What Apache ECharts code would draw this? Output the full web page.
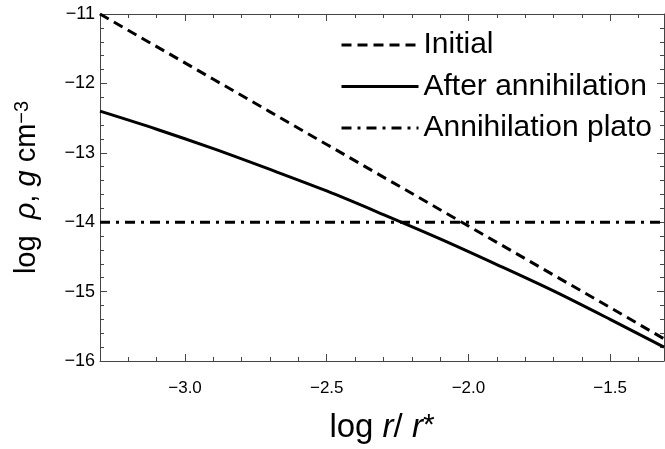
<!DOCTYPE html>
<html>
<head>
<meta charset="utf-8">
<script src="https://cdn.jsdelivr.net/npm/echarts@6/dist/echarts.min.js"></script>
<style>
html,body{margin:0;padding:0;background:#fff;}
#chart{width:665px;height:449px;}
</style>
</head>
<body>
<div id="chart"></div>
<script>
// Data
const xValues = [-3.3, -3.1, -2.9, -2.7, -2.5, -2.3, -2.1, -1.9, -1.7, -1.5, -1.31];
const initialValues = [-11.00, -11.47, -11.94, -12.41, -12.88, -13.35, -13.82, -14.29, -14.76, -15.23, -15.68];
const afterValues = [-12.40, -12.66, -12.94, -13.24, -13.55, -13.89, -14.24, -14.61, -14.99, -15.40, -15.80];
const platoValues = [-14, -14, -14, -14, -14, -14, -14, -14, -14, -14, -14];
const seriesNames = ['Initial', 'After annihilation', 'Annihilation plato'];
const xMajorTicks = [-3.0, -2.5, -2.0, -1.5];
const xMinorTicks = [-3.3,-3.2,-3.1,-3.0,-2.9,-2.8,-2.7,-2.6,-2.5,-2.4,-2.3,-2.2,-2.1,-2.0,-1.9,-1.8,-1.7,-1.6,-1.5,-1.4];
const xMin = -3.3, xMax = -1.31, yMin = -16, yMax = -11;

const FONT = '"Liberation Sans", Arial, Helvetica, sans-serif';
const AX = '#444';
const minus = s => String(s).replace('-', '\u2212');
const pairs = vals => xValues.map((x, i) => [x, vals[i]]);

const chart = echarts.init(document.getElementById('chart'), null, {renderer: 'canvas'});

function xAxisCfg(pos, major) {
  return {
    type: 'value', position: pos, min: xMin, max: xMax, gridIndex: 0,
    axisLine: {show: major, onZero: false, lineStyle: {color: AX, width: 1}},
    axisTick: {show: true, inside: true, length: major ? 7 : 4,
      customValues: major ? xMajorTicks : xMinorTicks, lineStyle: {color: AX, width: 1}},
    axisLabel: {show: major && pos === 'bottom', customValues: xMajorTicks, margin: 19,
      fontSize: 17, color: '#000', fontFamily: FONT,
      formatter: v => minus(Number(v).toFixed(1))},
    splitLine: {show: false},
    name: (major && pos === 'bottom') ? '{n|log }{i|r}{n|/ }{i|r}{s|*}' : '',
    nameLocation: 'middle', nameGap: 50,
    nameTextStyle: {
      rich: {
        n: {fontSize: 33, fontFamily: FONT, color: '#000'},
        i: {fontSize: 33, fontFamily: FONT, fontStyle: 'italic', color: '#000'},
        s: {fontSize: 30, fontFamily: FONT, color: '#000', verticalAlign: 'top'}
      }
    }
  };
}
function yAxisCfg(pos) {
  const left = pos === 'left';
  return {
    type: 'value', position: pos, min: yMin, max: yMax, interval: 1, gridIndex: 0,
    axisLine: {show: true, onZero: false, lineStyle: {color: AX, width: 1}},
    axisTick: {show: true, inside: true, length: 7, lineStyle: {color: AX, width: 1}},
    minorTick: {show: true, splitNumber: 5, length: 4, lineStyle: {color: AX, width: 1}},
    axisLabel: {show: left, margin: 5, fontSize: 18, color: '#000', fontFamily: FONT,
      formatter: v => minus(v)},
    splitLine: {show: false}, minorSplitLine: {show: false},
    name: left ? '{n|log  }{i|ρ}{n|, }{i|g}{n| cm}{s|\u22123}' : '',
    nameLocation: 'middle', nameGap: 54, nameRotate: 90,
    nameTextStyle: {
      rich: {
        n: {fontSize: 29, lineHeight: 29, fontFamily: FONT, color: '#000', verticalAlign: 'bottom'},
        i: {fontSize: 29, lineHeight: 29, fontFamily: FONT, fontStyle: 'italic', color: '#000', verticalAlign: 'bottom'},
        s: {fontSize: 20, lineHeight: 20, fontFamily: FONT, color: '#000', verticalAlign: 'top', padding: [0, 0, 21, 0]}
      }
    }
  };
}

const option = {
  backgroundColor: '#fff',
  animation: false,
  grid: {left: 100, right: 1, top: 14, bottom: 84, containLabel: false},
  xAxis: [xAxisCfg('bottom', true), xAxisCfg('bottom', false), xAxisCfg('top', true), xAxisCfg('top', false)],
  yAxis: [yAxisCfg('left'), yAxisCfg('right')],
  legend: {
    data: seriesNames, orient: 'vertical', left: 340, top: 30, padding: 0,
    itemWidth: 77, itemHeight: 28, itemGap: 11.5, align: 'left',
    lineStyle: {width: 3},
    itemStyle: {opacity: 0},
    textStyle: {fontSize: 30, fontFamily: FONT, color: '#000'}
  },
  series: [
    {name: seriesNames[0], type: 'line', data: pairs(initialValues), symbol: 'none', showSymbol: false,
      lineStyle: {color: '#000', width: 3, type: [10, 6]}, itemStyle: {color: '#000'}},
    {name: seriesNames[1], type: 'line', data: pairs(afterValues), symbol: 'none', showSymbol: false, smooth: 0.3,
      lineStyle: {color: '#000', width: 3, type: 'solid'}, itemStyle: {color: '#000'}},
    {name: seriesNames[2], type: 'line', data: pairs(platoValues), symbol: 'none', showSymbol: false,
      lineStyle: {color: '#000', width: 3, type: [10, 6, 3, 6]}, itemStyle: {color: '#000'}}
  ]
};
chart.setOption(option);
</script>
</body>
</html>
